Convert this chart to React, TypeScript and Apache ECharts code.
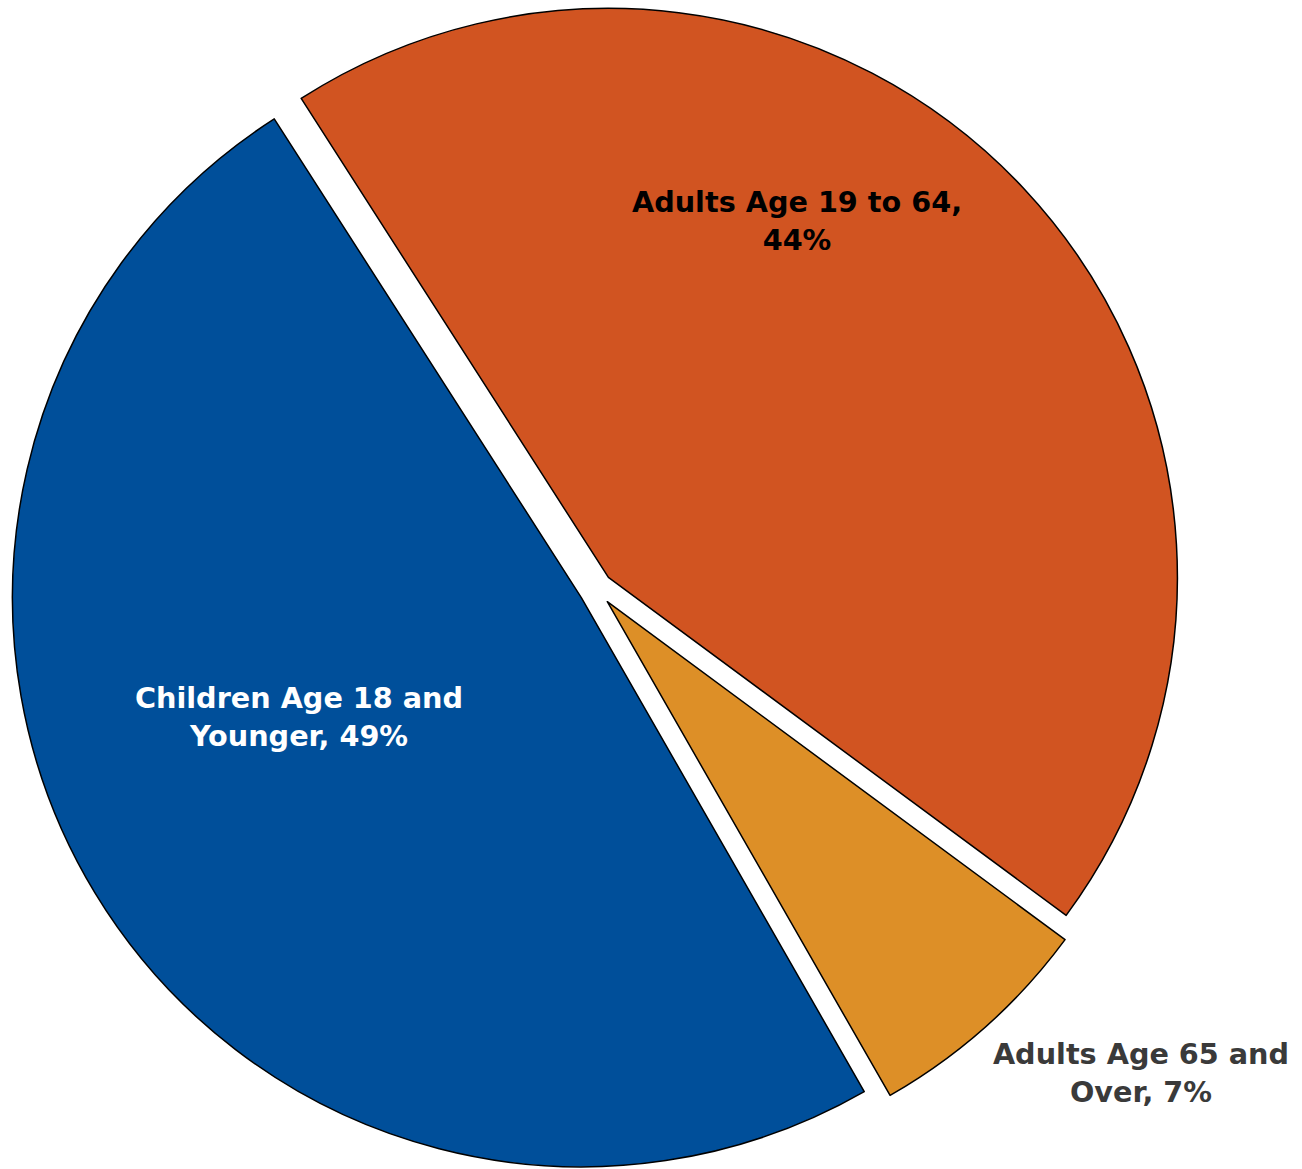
import React, { useEffect, useRef } from "react";
import * as echarts from "echarts";

const CATEGORIES = [
  "Children Age 18 and Younger",
  "Adults Age 19 to 64",
  "Adults Age 65 and Over",
];
const VALUES = [49.2, 44.2, 6.6];
const COLORS = ["#004F9A", "#D15421", "#DD8F27"];
const LABEL_COLORS = ["#FFFFFF", "#000000", "#3A3A3A"];
const BREAK_AFTER = [4, 5, 4];
const LABEL_CENTERS: number[][] = [
  [299, 717],
  [797, 221],
  [1141, 1073],
];

function labelText(name: string, percent: number, idx: number) {
  const words = `${name}, ${Math.round(percent)}%`.split(" ");
  const n = BREAK_AFTER[idx];
  return words.slice(0, n).join(" ") + "\n" + words.slice(n).join(" ");
}

export default function App() {
  const ref = useRef<HTMLDivElement>(null);
  useEffect(() => {
    if (!ref.current) return;
    const chart = echarts.init(ref.current, undefined, { renderer: "svg" });
    const total = VALUES.reduce((a, b) => a + b, 0);
    chart.setOption({
      animation: false,
      backgroundColor: "#FFFFFF",
      graphic: CATEGORIES.map((name, i) => ({
        type: "text",
        x: LABEL_CENTERS[i][0],
        y: LABEL_CENTERS[i][1],
        z: 100,
        silent: true,
        style: {
          text: labelText(name, (VALUES[i] / total) * 100, i),
          fill: LABEL_COLORS[i],
          fontFamily: "DejaVu Sans",
          fontWeight: "bold",
          fontSize: 28.7,
          lineHeight: 38,
          align: "center",
          verticalAlign: "middle",
        },
      })),
      series: [
        {
          type: "pie",
          center: [596, 589],
          radius: 569,
          startAngle: 299.8,
          clockwise: true,
          selectedMode: "multiple",
          selectedOffset: 17,
          silent: true,
          emphasis: { disabled: true },
          labelLine: { show: false },
          label: { show: false },
          data: CATEGORIES.map((name, i) => ({
            name,
            value: VALUES[i],
            selected: true,
            itemStyle: { color: COLORS[i], borderColor: "#000000", borderWidth: 1.5 },
            select: {
              itemStyle: { color: COLORS[i], borderColor: "#000000", borderWidth: 1.5 },
            },
          })),
        },
      ],
    });
    return () => chart.dispose();
  }, []);
  return (
    <div
      ref={ref}
      style={{ position: "absolute", left: 0, top: 0, width: 1302, height: 1169 }}
    />
  );
}
